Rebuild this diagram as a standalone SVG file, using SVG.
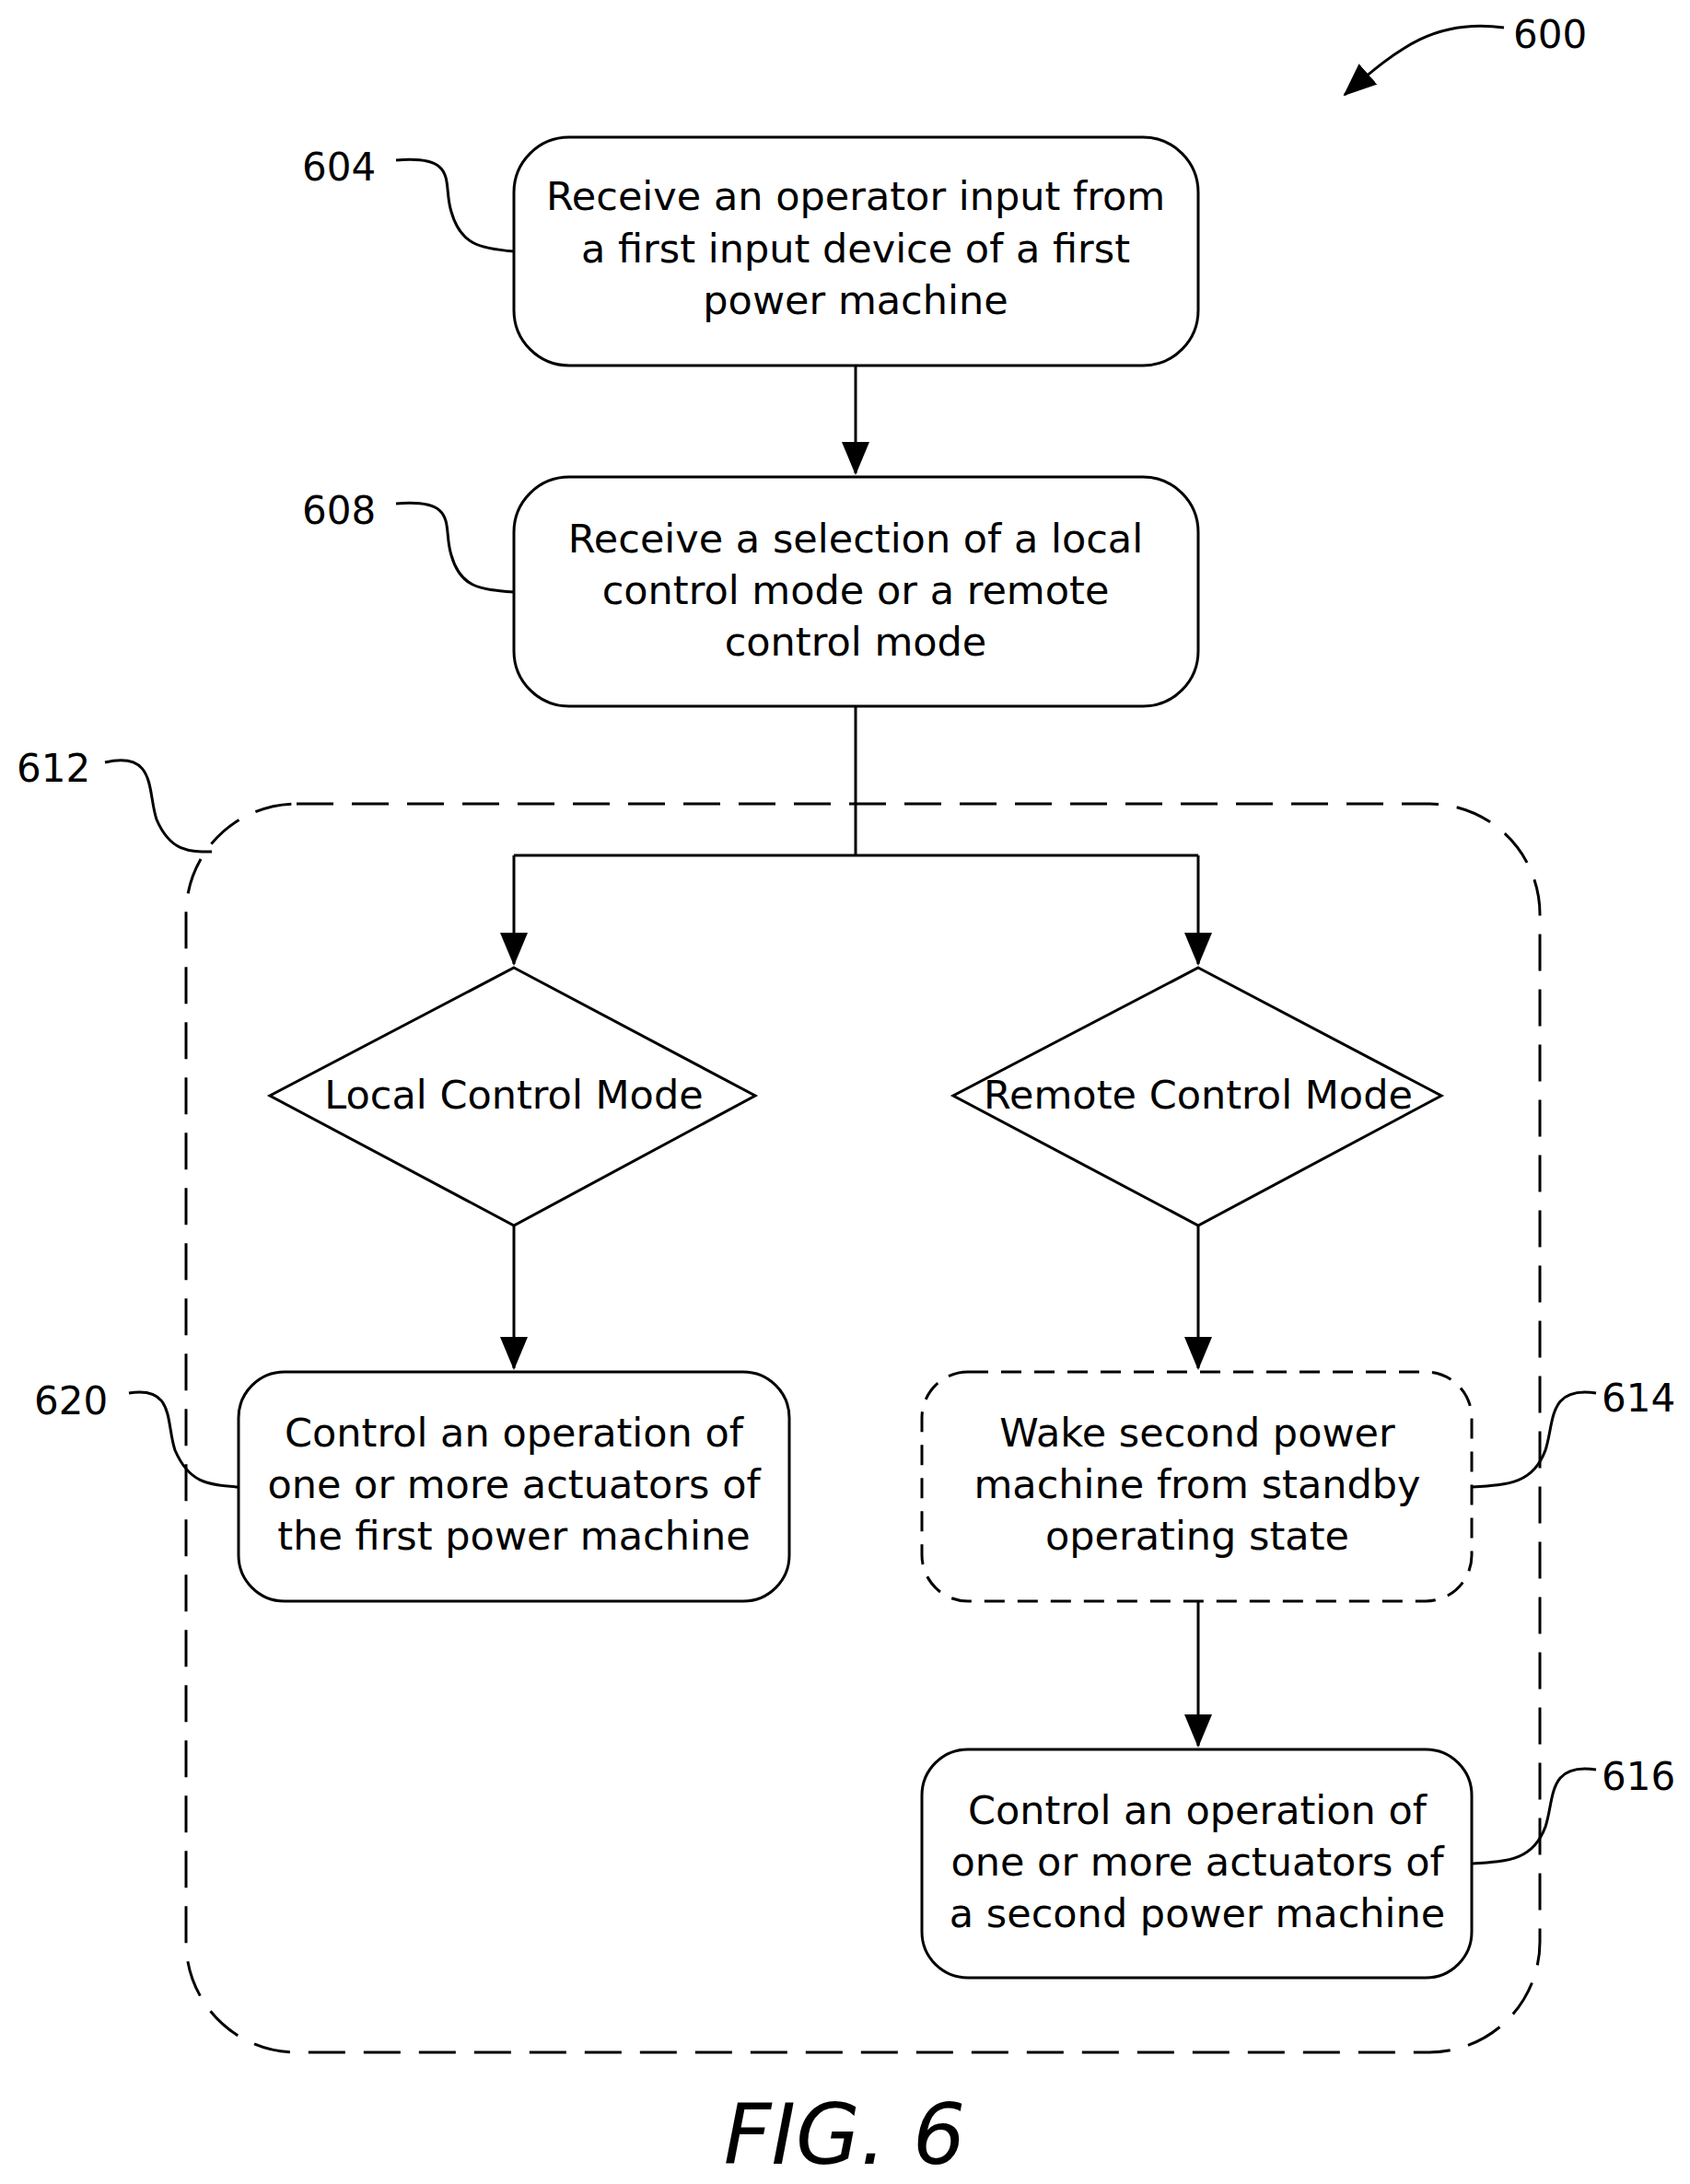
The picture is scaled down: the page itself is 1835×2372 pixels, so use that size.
<svg xmlns="http://www.w3.org/2000/svg" width="1835" height="2372" viewBox="0 0 1835 2372">
<style>
.b{fill:#fff;stroke:#000;stroke-width:3}
.d{fill:none;stroke:#000;stroke-width:3;stroke-dasharray:40 20}
.t{font-family:"DejaVu Sans",sans-serif;font-size:43px;text-anchor:middle;fill:#000}
.l{font-family:"DejaVu Sans",sans-serif;font-size:42px;fill:#000}
.c{fill:none;stroke:#000;stroke-width:3}
</style>
<defs>
<marker id="A" markerWidth="36" markerHeight="30" refX="34" refY="15" orient="auto" markerUnits="userSpaceOnUse"><path d="M0,0 L36,15 L0,30z" fill="#000"/></marker></defs>
<rect id="container612" class="d" x="202" y="873" width="1470" height="1356" rx="120"/>
<g id="n604"><rect class="b" x="558" y="149" width="743" height="248" rx="60"/>
<text class="t" x="929" y="228">Receive an operator input from</text><text class="t" x="929" y="285">a first input device of a first</text><text class="t" x="929" y="341">power machine</text></g>
<g id="n608"><rect class="b" x="558" y="518" width="743" height="249" rx="60"/>
<text class="t" x="929" y="600">Receive a selection of a local</text><text class="t" x="929" y="656">control mode or a remote</text><text class="t" x="929" y="712">control mode</text></g>
<g id="dL"><polygon class="b" points="558,1051 820,1190 558,1331 293,1190"/><text class="t" x="558" y="1204">Local Control Mode</text></g>
<g id="dR"><polygon class="b" points="1301,1051 1565,1190 1301,1331 1035,1190"/><text class="t" x="1301" y="1204">Remote Control Mode</text></g>
<g id="n620"><rect class="b" x="259" y="1490" width="598" height="249" rx="50"/>
<text class="t" x="558" y="1571">Control an operation of</text><text class="t" x="558" y="1627">one or more actuators of</text><text class="t" x="558" y="1683">the first power machine</text></g>
<g id="n614"><rect class="b" style="stroke-dasharray:22 14" x="1001" y="1490" width="597" height="249" rx="50"/>
<text class="t" x="1300" y="1571">Wake second power</text><text class="t" x="1300" y="1627">machine from standby</text><text class="t" x="1300" y="1683">operating state</text></g>
<g id="n616"><rect class="b" x="1001" y="1900" width="597" height="248" rx="50"/>
<text class="t" x="1300" y="1981">Control an operation of</text><text class="t" x="1300" y="2037">one or more actuators of</text><text class="t" x="1300" y="2093">a second power machine</text></g>
<g id="connectors">
<path class="c" d="M929,397 V514" marker-end="url(#A)"/>
<path class="c" d="M929,767 V929 M558,929 H1301"/>
<path class="c" d="M558,929 V1047" marker-end="url(#A)"/>
<path class="c" d="M1301,929 V1047" marker-end="url(#A)"/>
<path class="c" d="M558,1331 V1486" marker-end="url(#A)"/>
<path class="c" d="M1301,1331 V1486" marker-end="url(#A)"/>
<path class="c" d="M1301,1739 V1896" marker-end="url(#A)"/>
</g>
<g id="labels">
<text class="l" x="1643" y="52">600</text>
<path class="c" d="M1633,30 C1560,20 1520,50 1460,103" marker-end="url(#A)"/>
<text class="l" x="328" y="196">604</text>
<path class="c" d="M430,174 C500,168 480,200 490,230 C500,265 520,270 558,273"/>
<text class="l" x="328" y="569">608</text>
<path class="c" d="M430,547 C500,541 480,573 490,603 C500,638 520,640 558,643"/>
<text class="l" x="18" y="849">612</text>
<path class="c" d="M114,828 C170,815 160,860 170,890 C185,925 205,925 230,925"/>
<text class="l" x="37" y="1536">620</text>
<path class="c" d="M140,1513 C190,1505 180,1545 190,1575 C205,1610 225,1613 259,1615"/>
<text class="l" x="1739" y="1533">614</text>
<path class="c" d="M1733,1513 C1680,1505 1688,1545 1678,1575 C1665,1610 1640,1613 1598,1615"/>
<text class="l" x="1739" y="1944">616</text>
<path class="c" d="M1733,1922 C1680,1914 1688,1954 1678,1984 C1665,2019 1640,2022 1598,2024"/>
<text x="917" y="2350" style="font-family:'DejaVu Sans',sans-serif;font-size:90px;font-style:italic;text-anchor:middle">FIG. 6</text>
</g>
</svg>
